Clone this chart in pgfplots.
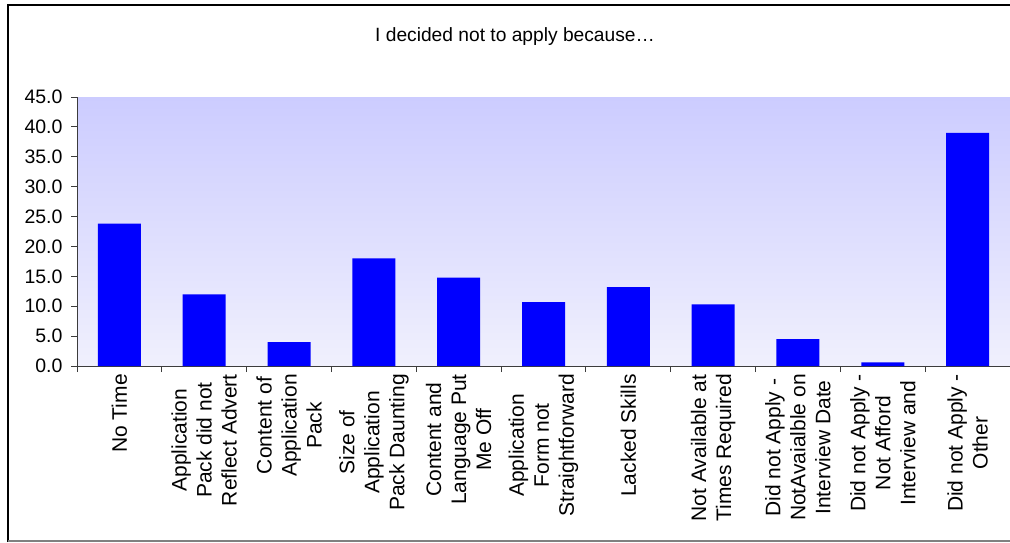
\documentclass[border=0pt]{standalone}
\usepackage{pgfplots}
\pgfplotsset{compat=1.18}
\usepackage{fontspec}
\setmainfont{Liberation Sans}
\definecolor{bgtop}{RGB}{204,204,255}
\definecolor{bgbot}{RGB}{240,240,253}
\definecolor{axgray}{RGB}{60,60,60}
\begin{document}
\begin{tikzpicture}[x=1pt,y=1pt]
\path[use as bounding box] (0,0) rectangle (1010,542);
\draw[black, line width=1.6pt] (8,0) -- (8,537) -- (1020,537);
\draw[gray, line width=1.2pt] (8,1) -- (1020,1);
\node[font=\fontsize{19.2}{23}\selectfont] at (515,505) {I decided not to apply because…};
\begin{axis}[
  at={(77pt,176pt)}, anchor=south west,
  scale only axis, width=933pt, height=269pt,
  xmin=-0.5, xmax=10.5, ymin=0, ymax=45,
  axis lines*=left,
  axis line style={axgray, line width=1pt},
  axis background/.style={shade, top color=bgtop, bottom color=bgbot},
  tick align=outside, major tick length=6pt,
  tick style={axgray, line width=0.9pt},
  ytick={0,5,...,45},
  yticklabel={\pgfmathprintnumber[fixed,fixed zerofill,precision=1,assume math mode=true]{\tick}},
  y tick label style={font=\fontsize{19.5}{23}\selectfont, xshift=-5pt},
  xtick={-0.5,0.5,...,10.5},
  x tick label as interval,
  xticklabels={No Time,
    Application\\Pack did not\\Reflect Advert,
    Content of\\Application\\Pack,
    Size of\\Application\\Pack Daunting,
    Content and\\Language Put\\Me Off,
    Application\\Form not\\Straightforward,
    Lacked Skills,
    Not Available at\\Times Required,
    Did not Apply -\\NotAvaialble on\\Interview Date,
    Did not Apply -\\Not Afford\\Interview and,
    Did not Apply -\\Other},
  xticklabel style={rotate=90, anchor=east, align=center, font=\fontsize{21}{25}\selectfont, inner sep=2pt},
  clip=false,
]
\addplot[ybar, bar width=43pt, fill={rgb,255:red,0;green,0;blue,255}, draw=none] coordinates {
  (0,23.8) (1,12.0) (2,4.0) (3,18.0) (4,14.8) (5,10.7) (6,13.2) (7,10.3) (8,4.5) (9,0.6) (10,39.0)
};
\end{axis}
\end{tikzpicture}
\end{document}
